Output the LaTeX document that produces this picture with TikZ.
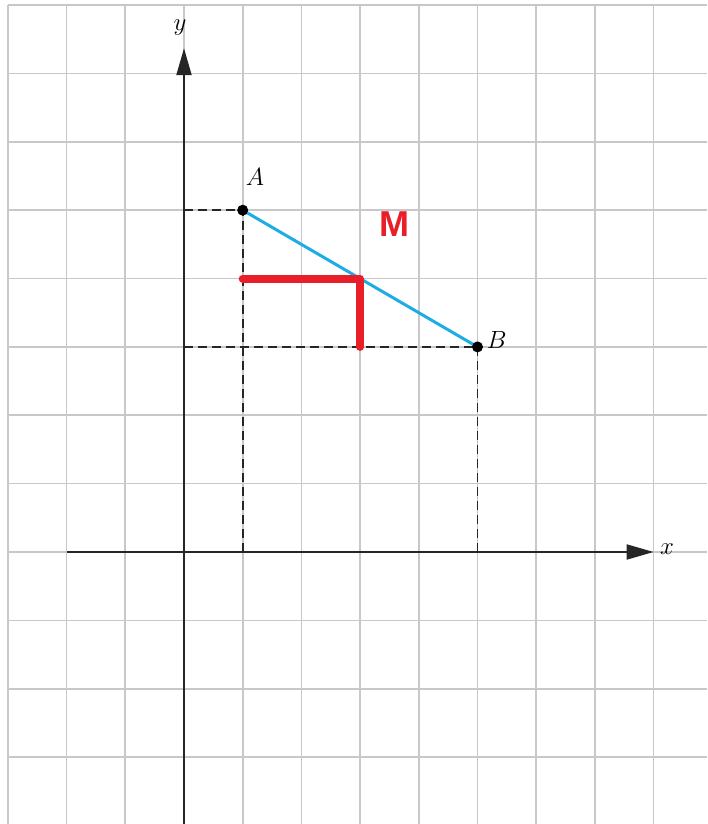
\documentclass[tikz,border=0pt]{standalone}
\usepackage{fontspec}
\setsansfont{Liberation Sans}
\usetikzlibrary{arrows.meta}
\definecolor{gridgray}{RGB}{200,200,204}
\definecolor{segblue}{RGB}{30,172,228}
\definecolor{mred}{RGB}{232,30,40}
\begin{document}
\begin{tikzpicture}[x=58.7pt,y=68.36pt,
  gridline/.style={draw=gridgray,line width=1.7pt},
  axisline/.style={line width=2pt,draw=black!85,-{Triangle[length=27pt,width=15pt]}},
  guide/.style={dash pattern=on 9pt off 5pt,line width=1.9pt,draw=black!85},
  dotpt/.style={circle,fill=black,inner sep=0pt,minimum size=10pt},
  lbl/.style={inner sep=0pt,font=\fontsize{27}{27}\selectfont},
  axlbl/.style={inner sep=0pt,font=\fontsize{29}{29}\selectfont},
  mlbl/.style={inner sep=0pt,text=mred,font=\fontsize{36}{36}\selectfont\sffamily\bfseries}]
\useasboundingbox (-184pt,-272pt) rectangle (523pt,552pt);
% grid
\foreach \i in {-3,...,8} \draw[gridline] (\i,-3.98) -- (\i,8);
\foreach \j in {-3,...,8} \draw[gridline] (-3,\j) -- (8.91,\j);
% coordinates
\coordinate (O) at (0,0);
\coordinate (Ay) at (0,5);
\coordinate (Ax) at (1,0);
\coordinate (By) at (0,3);
\coordinate (Bx) at (5,0);
\coordinate (Xs) at (-2,0);
\coordinate (Xe) at (8,0);
\coordinate (Ys) at (0,-3.98);
\coordinate (Ye) at (0,7.37);
\coordinate (R1) at (1,4);
\coordinate (R2) at (3,3);
\node[dotpt] (A) at (1,5) {};
\node[dotpt] (B) at (5,3) {};
\coordinate (M) at (3,4);
% dashed guides
\draw[guide] (Ay) -- (A.center) -- (Ax);
\draw[guide] (By) -- (B.center) -- (Bx);
% axes
\draw[axisline] (Xs) -- (Xe);
\draw[axisline] (Ys) -- (Ye);
% segment
\draw[segblue,line width=3pt] (A.center) -- (B.center);
\draw[mred,line width=8pt,line cap=round,line join=round] (R1) -- (M) -- (R2);
% dots on top
\fill[black] (A.center) circle (5.5pt);
\fill[black] (B.center) circle (5.5pt);
% labels
\node[lbl] (Alab) at (1.21,5.49) {$A$};
\node[lbl] (Blab) at (5.33,3.10) {$B$};
\node[mlbl] (Mlab) at (3.58,4.80) {M};
\node[axlbl] (xlab) at (8.23,0.04) {$x$};
\node[axlbl] (ylab) at (-0.07,7.67) {$y$};
\end{tikzpicture}
\end{document}
